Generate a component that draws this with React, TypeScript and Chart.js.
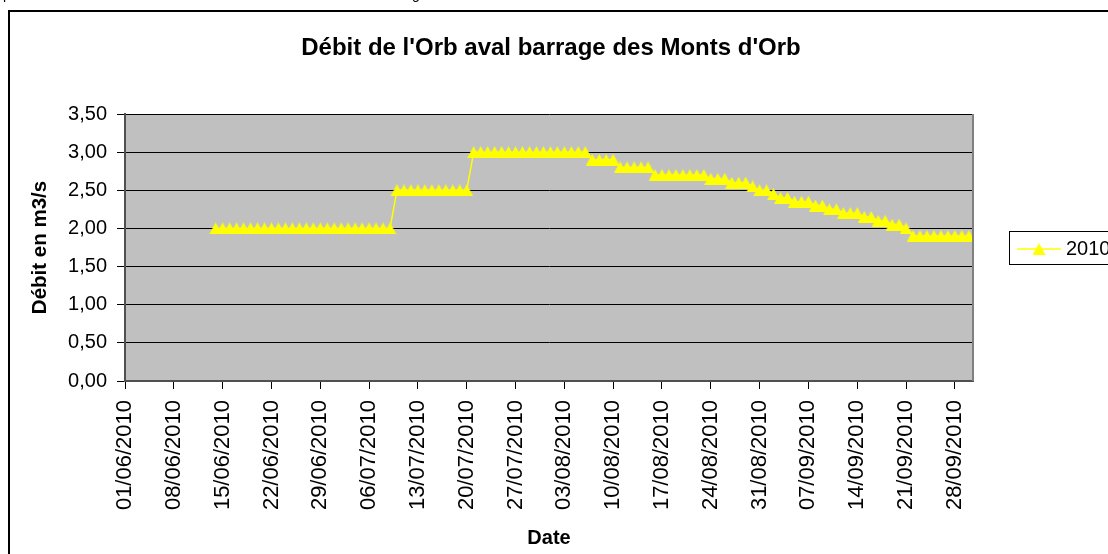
import React, { useEffect, useRef } from "react";
import { Chart, registerables } from "chart.js";

Chart.register(...registerables);

const titleText = "Débit de l'Orb aval barrage des Monts d'Orb";
const yAxisTitle = "Débit en m3/s";
const xAxisTitle = "Date";
const seriesName = "2010";

// x-axis tick labels (one every 7 days, starting 01/06/2010)
const tickLabels = [
  "01/06/2010", "08/06/2010", "15/06/2010", "22/06/2010", "29/06/2010",
  "06/07/2010", "13/07/2010", "20/07/2010", "27/07/2010", "03/08/2010",
  "10/08/2010", "17/08/2010", "24/08/2010", "31/08/2010", "07/09/2010",
  "14/09/2010", "21/09/2010", "28/09/2010",
];
const tickStepDays = 7;
const axisMaxDays = 121.6;

// daily flow values (m3/s), one value per day
const debitJuin = [
  null, null, null, null, null, null, null, null, null, null,
  null, null, null, 2.0, 2.0, 2.0, 2.0, 2.0, 2.0, 2.0,
  2.0, 2.0, 2.0, 2.0, 2.0, 2.0, 2.0, 2.0, 2.0, 2.0,
];
const debitJuillet = [
  2.0, 2.0, 2.0, 2.0, 2.0, 2.0, 2.0, 2.0, 2.0, 2.5,
  2.5, 2.5, 2.5, 2.5, 2.5, 2.5, 2.5, 2.5, 2.5, 2.5,
  3.0, 3.0, 3.0, 3.0, 3.0, 3.0, 3.0, 3.0, 3.0, 3.0,
  3.0,
];
const debitAout = [
  3.0, 3.0, 3.0, 3.0, 3.0, 3.0, 2.9, 2.9, 2.9, 2.9,
  2.8, 2.8, 2.8, 2.8, 2.8, 2.7, 2.7, 2.7, 2.7, 2.7,
  2.7, 2.7, 2.7, 2.65, 2.65, 2.65, 2.6, 2.6, 2.6, 2.55,
  2.5,
];
const debitSeptembre = [
  2.5, 2.45, 2.4, 2.4, 2.35, 2.35, 2.35, 2.3, 2.3, 2.25,
  2.25, 2.2, 2.2, 2.2, 2.15, 2.15, 2.1, 2.1, 2.05, 2.05,
  2.0, 1.9, 1.9, 1.9, 1.9, 1.9, 1.9, 1.9, 1.9, 1.9,
];

const yMin = 0;
const yMax = 3.5;
const yStep = 0.5;

const FONT = '"Liberation Sans", Arial, Helvetica, sans-serif';
const YELLOW = "#FFFF00";

function makeMarker(): HTMLCanvasElement {
  const c = document.createElement("canvas");
  c.width = 13;
  c.height = 12;
  const g = c.getContext("2d")!;
  g.fillStyle = YELLOW;
  g.beginPath();
  g.moveTo(0, 12);
  g.lineTo(13, 12);
  g.lineTo(6.5, 0);
  g.closePath();
  g.fill();
  return c;
}

export default function App() {
  const ref = useRef<HTMLCanvasElement | null>(null);

  useEffect(() => {
    if (!ref.current) return;
    const marker = makeMarker();
    const values = [...debitJuin, ...debitJuillet, ...debitAout, ...debitSeptembre];
    const points = values
      .map((v, i) => ({ x: i, y: v }))
      .filter((p) => p.y !== null);

    const decor = {
      id: "decor",
      beforeDraw(chart: any) {
        const { ctx, chartArea: a } = chart;
        ctx.save();
        ctx.fillStyle = "#ffffff";
        ctx.fillRect(0, 0, chart.width, chart.height);
        ctx.fillStyle = "#c0c0c0";
        ctx.fillRect(a.left, a.top, a.right - a.left, a.bottom - a.top);
        ctx.restore();
      },
      afterDraw(chart: any) {
        const { ctx, chartArea: a } = chart;
        ctx.save();
        // right border of plot area
        ctx.strokeStyle = "#808080";
        ctx.lineWidth = 2;
        ctx.beginPath();
        ctx.moveTo(a.right, a.top);
        ctx.lineTo(a.right, a.bottom);
        ctx.stroke();

        // outer frame
        ctx.strokeStyle = "#000";
        ctx.lineWidth = 2;
        ctx.strokeRect(9, 11, 1200, 700);

        // cut-off document text at the very top
        ctx.fillStyle = "#000";
        ctx.font = `14px ${FONT}`;
        ctx.textAlign = "left";
        ctx.textBaseline = "alphabetic";
        ctx.fillText("p", 3, -1);
        ctx.fillText("g", 412, -1);

        // title
        ctx.fillStyle = "#000";
        ctx.font = `bold 24px ${FONT}`;
        ctx.textAlign = "center";
        ctx.textBaseline = "middle";
        ctx.fillText(titleText, 551, 48);

        // axis titles
        ctx.font = `bold 20px ${FONT}`;
        ctx.fillText(xAxisTitle, (a.left + a.right) / 2, 538);
        ctx.save();
        ctx.translate(40, (a.top + a.bottom) / 2);
        ctx.rotate(-Math.PI / 2);
        ctx.font = `bold 20.5px ${FONT}`;
        ctx.fillText(yAxisTitle, 0, 0);
        ctx.restore();

        // legend
        ctx.fillStyle = "#fff";
        ctx.fillRect(1009, 231, 120, 33);
        ctx.strokeStyle = "#000";
        ctx.lineWidth = 1;
        ctx.strokeRect(1009.5, 231.5, 120, 33);
        ctx.strokeStyle = YELLOW;
        ctx.lineWidth = 1.5;
        ctx.beginPath();
        ctx.moveTo(1017, 249);
        ctx.lineTo(1061, 249);
        ctx.stroke();
        ctx.drawImage(marker, 1039 - 6.5, 249 - 6);
        ctx.fillStyle = "#000";
        ctx.font = `20px ${FONT}`;
        ctx.textAlign = "left";
        ctx.textBaseline = "middle";
        ctx.fillText(seriesName, 1066, 249);
        ctx.restore();
      },
    };

    const chart = new Chart(ref.current, {
      type: "line",
      data: {
        datasets: [
          {
            label: seriesName,
            data: points as any,
            borderColor: YELLOW,
            backgroundColor: YELLOW,
            borderWidth: 1.5,
            tension: 0,
            pointStyle: marker as any,
            pointRadius: 6,
            pointHoverRadius: 6,
          },
        ],
      },
      options: {
        responsive: false,
        animation: false,
        devicePixelRatio: 1,
        layout: { padding: { top: 114, right: 135, left: 0, bottom: 0 } },
        plugins: {
          legend: { display: false },
          title: { display: false },
          tooltip: { enabled: false },
        },
        scales: {
          x: {
            type: "linear",
            min: 0,
            max: axisMaxDays,
            afterBuildTicks: (scale: any) => {
              scale.ticks = tickLabels.map((_, i) => ({ value: i * tickStepDays }));
            },
            afterFit: (scale: any) => {
              scale.height = 173;
            },
            grid: {
              drawOnChartArea: false,
              drawTicks: true,
              tickLength: 8,
              color: "#000",
              lineWidth: 1,
            },
            border: { display: true, color: "#505050", width: 2 },
            ticks: {
              autoSkip: false,
              minRotation: 90,
              maxRotation: 90,
              padding: 11,
              color: "#000",
              font: { family: FONT, size: 22 },
              callback: (_v: any, i: number) => tickLabels[i],
            },
          },
          y: {
            type: "linear",
            min: yMin,
            max: yMax,
            afterFit: (scale: any) => {
              scale.width = 125;
            },
            grid: {
              color: "#000",
              lineWidth: 1,
              drawTicks: true,
              tickLength: 8,
            },
            border: { display: true, color: "#505050", width: 2 },
            ticks: {
              stepSize: yStep,
              padding: 10,
              color: "#000",
              font: { family: FONT, size: 20 },
              callback: (v: any) => Number(v).toFixed(2).replace(".", ","),
            },
          },
        },
      },
      plugins: [decor],
    });

    return () => chart.destroy();
  }, []);

  return (
    <canvas
      ref={ref}
      width={1108}
      height={554}
      style={{ position: "absolute", left: 0, top: 0, width: 1108, height: 554, display: "block" }}
    />
  );
}
